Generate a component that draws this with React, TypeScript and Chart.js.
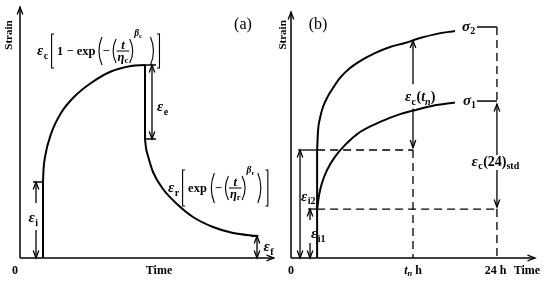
import { useEffect, useRef } from 'react';
import { Chart, registerables } from 'chart.js';

Chart.register(...registerables);

// ---------- Panel (a): creep and recovery (time / strain in relative units 0..100) ----------
const loadTime = 9.2;
const instStrain = 30.4;
const creepTime = [9.2, 9.4, 10, 12.4, 16.4, 21.6, 28.4, 36.4, 44.4, 50];
const creepStrain = [30.4, 35.2, 40.4, 49.6, 58, 64.4, 70, 74.6, 76.8, 77.2];
const unloadTime = 50;
const peakStrain = 77.2;
const elasticEnd = 47.6;
const recoveryTime = [50, 50.4, 51.2, 53.2, 57.2, 62.8, 69.2, 77.2, 85.2, 94.8];
const recoveryStrain = [47.6, 44, 40.8, 34.4, 27.6, 21.6, 16.4, 12.4, 10, 8.8];
const residualStrain = 8.8;
const endTime = 94.8;

// ---------- Panel (b): two stress levels ----------
const loadTimeB = 10.7;
const epsI1 = 19.9;
const epsI2 = 43.9;
const tn = 50;
const t24 = 84.4;
const sigma2Time = [10.7, 11.1, 11.9, 13.1, 15.2, 17.2, 20.1, 24.2, 29.1, 34.4, 40.6, 46.7, 52.9, 59.8, 67.2];
const sigma2Strain = [43.9, 52, 56.9, 61.4, 65.9, 69.1, 73.2, 77.2, 80.5, 83.3, 85.8, 87.4, 89.4, 91.1, 92.3];
const sigma1Time = [10.7, 11.5, 12.7, 14.8, 18, 22.1, 28.3, 36.5, 44.7, 50, 57.8, 67.2];
const sigma1Strain = [19.9, 25.6, 30.5, 35.8, 41.1, 45.9, 51.2, 55.3, 58.5, 59.9, 61.8, 63.2];
const sigmaLabelTime = 76.2;
const sigma2Level = 93.9;
const sigma1Level = 63.8;
const tnTop = 88.4;
const bTickLabels = ['0', 't_n h', '24 h'];

const SERIF = '"Liberation Serif", "Times New Roman", serif';

type Tok = {
  t?: string; sz?: number; it?: boolean; nb?: boolean; dy?: number;
  br?: string; h?: number; gap?: number; num?: Tok[]; den?: Tok[];
};
type Label = { x: number; y: number; toks: Tok[]; align?: 'left' | 'center'; rot?: boolean };

const T = (t: string, sz: number, o: Partial<Tok> = {}): Tok => ({ t, sz, ...o });
const G = (gap: number): Tok => ({ gap });
const B = (br: string, h: number): Tok => ({ br, h });
const eps = (sub: string, subIt = false): Tok[] => [T('ε', 15, { it: true }), G(0.5), T(sub, 10, { dy: 3.5, it: subIt })];

function fontOf(k: Tok) {
  return `${k.it ? 'italic ' : ''}${k.nb ? '' : 'bold '}${k.sz}px ${SERIF}`;
}
function tokW(ctx: CanvasRenderingContext2D, k: Tok): number {
  if (k.gap != null) return k.gap;
  if (k.br) return 5;
  if (k.num) return Math.max(runW(ctx, k.num), runW(ctx, k.den!)) + 2;
  ctx.font = fontOf(k);
  return ctx.measureText(k.t || '').width;
}
function runW(ctx: CanvasRenderingContext2D, toks: Tok[]) {
  return toks.reduce((s, k) => s + tokW(ctx, k), 0);
}
function drawBracket(ctx: CanvasRenderingContext2D, ch: string, x: number, ax: number, h: number, w: number) {
  const top = ax - h / 2, bot = ax + h / 2;
  ctx.beginPath();
  ctx.lineWidth = 1.1;
  if (ch === '[') { ctx.moveTo(x + w - 1, top); ctx.lineTo(x + 1.5, top); ctx.lineTo(x + 1.5, bot); ctx.lineTo(x + w - 1, bot); }
  else if (ch === ']') { ctx.moveTo(x + 1, top); ctx.lineTo(x + w - 1.5, top); ctx.lineTo(x + w - 1.5, bot); ctx.lineTo(x + 1, bot); }
  else if (ch === '(') { ctx.moveTo(x + w - 0.5, top); ctx.quadraticCurveTo(x - 1.5, ax, x + w - 0.5, bot); }
  else { ctx.moveTo(x + 0.5, top); ctx.quadraticCurveTo(x + w + 1.5, ax, x + 0.5, bot); }
  ctx.stroke();
}
function drawRun(ctx: CanvasRenderingContext2D, toks: Tok[], x: number, base: number) {
  for (const k of toks) {
    const w = tokW(ctx, k);
    if (k.br) drawBracket(ctx, k.br, x, base - 4, k.h || 20, w);
    else if (k.num) {
      const wn = runW(ctx, k.num), wd = runW(ctx, k.den!);
      const ax = base - 4;
      drawRun(ctx, k.num, x + (w - wn) / 2, ax - 2.5);
      ctx.beginPath(); ctx.lineWidth = 1; ctx.moveTo(x, ax); ctx.lineTo(x + w, ax); ctx.stroke();
      drawRun(ctx, k.den!, x + (w - wd) / 2, ax + 9.5);
    } else if (k.t) {
      ctx.font = fontOf(k);
      ctx.fillText(k.t, x, base + (k.dy || 0));
    }
    x += w;
  }
}

const creepFormula: Tok[] = [
  ...eps('c'), G(2), B('[', 34), G(2), T('1 − exp', 12.5), G(2), B('(', 28), T('−', 12.5), G(2), B('(', 24),
  { num: [T('t', 12.5, { it: true })], den: [T('η', 12.5, { it: true }), T('c', 8.5, { dy: 2 })] },
  B(')', 24), T('β', 9.5, { it: true, dy: -19 }), T('c', 6.5, { dy: -17 }), G(8), B(')', 28), G(1), B(']', 34),
];
const recoveryFormula: Tok[] = [
  ...eps('r'), G(2), B('[', 36), G(2), T('exp', 12.5), G(3), B('(', 30), T('−', 12.5), G(2), B('(', 24),
  { num: [T('t', 12.5, { it: true })], den: [T('η', 12.5, { it: true }), T('r', 8.5, { dy: 2 })] },
  B(')', 24), T('β', 9.5, { it: true, dy: -19 }), T('r', 6.5, { dy: -17 }), G(3), B(')', 30), G(2), B(']', 36),
];

const labelsA: Label[] = [
  { x: 6.8, y: 81.2, toks: creepFormula },
  { x: 59.2, y: 26.4, toks: recoveryFormula },
  { x: 54.8, y: 58.8, toks: eps('e') },
  { x: 3.4, y: 14.4, toks: eps('i') },
  { x: 97.4, y: 2.8, toks: eps('f') },
  { x: 89.2, y: 91.6, toks: [T('(a)', 16, { nb: true })], align: 'center' },
  { x: -4.8, y: 89.2, toks: [T('Strain', 11)], align: 'center', rot: true },
  { x: 55.6, y: -6.4, toks: [T('Time', 12)], align: 'center' },
  { x: -2, y: -6.4, toks: [T('0', 12)], align: 'center' },
];

const labelsB: Label[] = [
  { x: 70.1, y: 92.3, toks: [T('σ', 15, { it: true }), T('2', 10, { dy: 3.5 })] },
  { x: 70.5, y: 62.2, toks: [T('σ', 15, { it: true }), T('1', 10, { dy: 3.5 })] },
  { x: 46.7, y: 63.8, toks: [...eps('c'), G(0.5), T('(', 14), T('t', 14, { it: true }), T('n', 10, { it: true, dy: 3.5 }), T(')', 14)] },
  { x: 74, y: 37.4, toks: [...eps('c'), G(0.5), T('(24)', 14), T('std', 10, { dy: 3.5 })] },
  { x: 4.1, y: 23.2, toks: eps('i2') },
  { x: 8.2, y: 8.1, toks: eps('i1') },
  { x: 11.1, y: 93.1, toks: [T('(b)', 16, { nb: true })], align: 'center' },
  { x: -3.7, y: 90.7, toks: [T('Strain', 11)], align: 'center', rot: true },
  { x: 0, y: -6.5, toks: [T(bTickLabels[0], 12)], align: 'center' },
  { x: tn, y: -6.5, toks: [T('t', 12, { it: true }), T('n', 8.5, { it: true, dy: 2 }), T(' h', 12)], align: 'center' },
  { x: t24 - 0.6, y: -6.5, toks: [T(bTickLabels[2], 12)], align: 'center' },
  { x: 96.7, y: -6.5, toks: [T('Time', 12)], align: 'center' },
];

function line(xs: number[], ys: number[], o: { w?: number; dash?: number[]; smooth?: boolean; start?: boolean; end?: boolean } = {}) {
  return {
    data: xs.map((x, i) => ({ x, y: ys[i] })),
    showLine: true,
    borderColor: '#000',
    backgroundColor: '#000',
    borderWidth: o.w ?? 1.3,
    borderDash: o.dash ?? [],
    pointRadius: 0,
    tension: o.smooth ? 0.4 : 0,
    cubicInterpolationMode: o.smooth ? 'monotone' : 'default',
    clip: false as any,
    arrowStart: !!o.start,
    arrowEnd: !!o.end,
  };
}

function head(ctx: CanvasRenderingContext2D, tx: number, ty: number, fx: number, fy: number) {
  const dx = tx - fx, dy = ty - fy;
  const L = Math.hypot(dx, dy) || 1;
  const ux = dx / L, uy = dy / L;
  const len = 7.5, hw = 2.8;
  ctx.beginPath();
  ctx.lineWidth = 1.3;
  ctx.moveTo(tx - ux * len - uy * hw, ty - uy * len + ux * hw);
  ctx.lineTo(tx, ty);
  ctx.lineTo(tx - ux * len + uy * hw, ty - uy * len - ux * hw);
  ctx.stroke();
}

function decor(labels: Label[]) {
  return {
    id: 'decor',
    afterDatasetsDraw(chart: any) {
      const ctx: CanvasRenderingContext2D = chart.ctx;
      ctx.save();
      ctx.strokeStyle = '#000';
      ctx.fillStyle = '#000';
      ctx.setLineDash([]);
      chart.data.datasets.forEach((ds: any, i: number) => {
        const pts = chart.getDatasetMeta(i).data;
        if (pts.length < 2) return;
        if (ds.arrowEnd) { const a = pts[pts.length - 1], b = pts[pts.length - 2]; head(ctx, a.x, a.y, b.x, b.y); }
        if (ds.arrowStart) { const a = pts[0], b = pts[1]; head(ctx, a.x, a.y, b.x, b.y); }
      });
      const xs = chart.scales.x, ys = chart.scales.y;
      ctx.textBaseline = 'alphabetic';
      ctx.textAlign = 'left';
      for (const lb of labels) {
        const px = xs.getPixelForValue(lb.x), py = ys.getPixelForValue(lb.y);
        const w = runW(ctx, lb.toks);
        if (lb.rot) {
          ctx.save();
          ctx.translate(px, py);
          ctx.rotate(-Math.PI / 2);
          drawRun(ctx, lb.toks, -w / 2, 4);
          ctx.restore();
        } else {
          drawRun(ctx, lb.toks, lb.align === 'center' ? px - w / 2 : px, py);
        }
      }
      ctx.restore();
    },
  };
}

function config(datasets: any[], labels: Label[], pad: any) {
  return {
    type: 'scatter',
    data: { datasets },
    options: {
      responsive: false,
      animation: false,
      events: [],
      layout: { padding: pad },
      scales: {
        x: { type: 'linear', min: 0, max: 100, display: false },
        y: { type: 'linear', min: 0, max: 100, display: false },
      },
      plugins: { legend: { display: false }, tooltip: { enabled: false } },
    },
    plugins: [decor(labels)],
  } as any;
}

function makeA() {
  const ds = [
    line([0, 0], [0, 100.4], { w: 1.5, end: true }),
    line([0, 101.6], [0, 0], { w: 1.5, end: true }),
    line([loadTime, loadTime], [0, instStrain], { w: 2 }),
    line(creepTime, creepStrain, { w: 2, smooth: true }),
    line([unloadTime, unloadTime], [peakStrain, elasticEnd], { w: 2 }),
    line(recoveryTime, recoveryStrain, { w: 2, smooth: true }),
    // ticks
    line([loadTime - 4, loadTime], [instStrain, instStrain], { w: 1.5 }),
    line([unloadTime, unloadTime + 4.4], [peakStrain, peakStrain], { w: 1.5 }),
    line([unloadTime, unloadTime + 4.4], [elasticEnd, elasticEnd], { w: 1.5 }),
    line([endTime - 2.4, endTime + 0.6], [residualStrain, residualStrain], { w: 1.5 }),
    // dimension arrows
    line([6.4, 6.4], [22, instStrain], { end: true }),
    line([6.4, 6.4], [11.2, 0], { end: true }),
    line([52.8, 52.8], [peakStrain, elasticEnd], { start: true, end: true }),
    line([endTime, endTime], [residualStrain, 0], { start: true, end: true }),
  ];
  return config(ds, labelsA, { left: 20, right: 5, top: 8, bottom: 25 });
}

function makeB() {
  const dash = [8, 5];
  const ds = [
    line([0, 0], [0, 100], { w: 1.5, end: true }),
    line([0, 100], [0, 0], { w: 1.5, end: true }),
    line([loadTimeB, loadTimeB], [0, epsI2], { w: 2 }),
    line(sigma2Time, sigma2Strain, { w: 2, smooth: true }),
    line(sigma1Time, sigma1Strain, { w: 2, smooth: true }),
    line([sigmaLabelTime, t24], [sigma2Level, sigma2Level], { w: 1.5 }),
    line([sigmaLabelTime, t24], [sigma1Level, sigma1Level], { w: 1.5 }),
    // reference lines
    line([2.9, loadTimeB], [epsI2, epsI2], { w: 1.3 }),
    line([loadTimeB, tn], [epsI2, epsI2], { w: 1.3, dash }),
    line([7, loadTimeB], [epsI1, epsI1], { w: 1.3 }),
    line([loadTimeB, t24], [epsI1, epsI1], { w: 1.3, dash }),
    line([tn, tn], [epsI2, 0], { w: 1.3, dash }),
    line([t24, t24], [sigma2Level, sigma1Level], { w: 1.3, dash }),
    line([t24, t24], [epsI1, 0], { w: 1.3, dash }),
    // dimension arrows
    line([3.7, 3.7], [0, epsI2], { start: true, end: true }),
    line([7.8, 7.8], [15.4, epsI1], { end: true }),
    line([7.8, 7.8], [6.1, 0], { end: true }),
    line([tn, tn], [70.6, tnTop], { end: true }),
    line([tn, tn], [60.8, 44.9], { end: true }),
    line([t24, t24], [41.9, 62.6], { end: true }),
    line([t24, t24], [35.8, 20.7], { end: true }),
  ];
  return config(ds, labelsB, { left: 16, right: 15, top: 12, bottom: 25 });
}

function Panel({ make, left }: { make: () => any; left: number }) {
  const ref = useRef<HTMLCanvasElement>(null);
  useEffect(() => {
    const chart = new Chart(ref.current as HTMLCanvasElement, make());
    return () => chart.destroy();
  }, [make]);
  return (
    <canvas
      ref={ref}
      width={275}
      height={283}
      style={{ position: 'absolute', left, top: 0, width: 275, height: 283 }}
    />
  );
}

export default function App() {
  useEffect(() => {
    document.body.style.margin = '0';
    document.body.style.background = '#fff';
  }, []);
  return (
    <div style={{ position: 'fixed', left: 0, top: 0, width: 550, height: 283, background: '#fff', overflow: 'hidden' }}>
      <Panel make={makeA} left={0} />
      <Panel make={makeB} left={275} />
    </div>
  );
}
